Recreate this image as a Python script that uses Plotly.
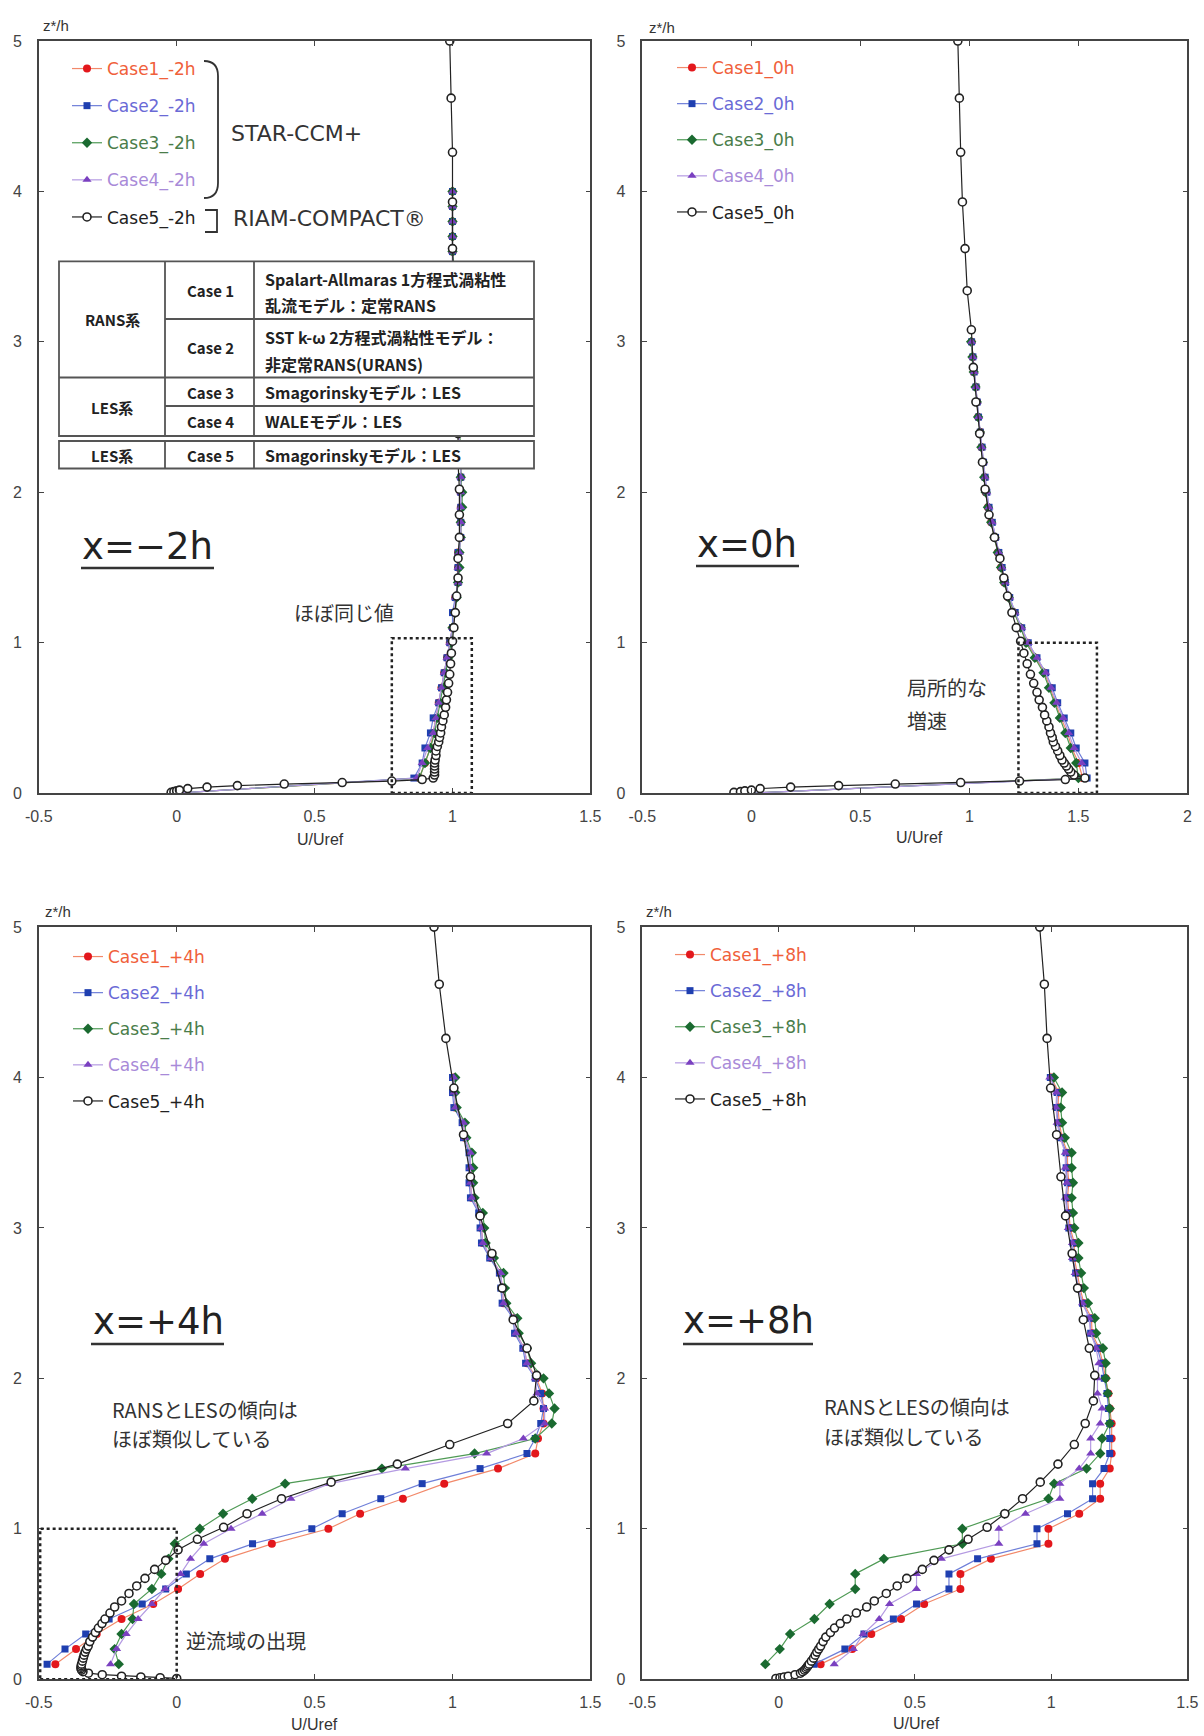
import plotly.graph_objects as go

W, H = 1204, 1736

# ---------------- data ----------------
# STAR-CCM+ sampling heights (z*/h)
Z_CASES_M2H = [0.0, 0.1, 0.2, 0.3, 0.4, 0.5, 0.6, 0.7, 0.8, 0.9, 1.0, 1.1, 1.2, 1.3, 1.4, 1.5, 1.6, 1.7, 1.8, 1.9,
               2.0, 2.1, 2.2, 2.3, 2.4, 2.5, 2.6, 2.7, 2.8, 2.9, 3.0, 3.1, 3.2, 3.3, 3.4, 3.5, 3.6, 3.7, 3.8, 3.9, 4.0]
Z_CASES_0H = [0.0, 0.1, 0.2, 0.3, 0.4, 0.5, 0.6, 0.7, 0.8, 0.9, 1.0, 1.1, 1.2, 1.3, 1.4, 1.5, 1.6, 1.7, 1.8, 1.9,
              2.0, 2.1, 2.2, 2.3, 2.4, 2.5, 2.6, 2.7, 2.8, 2.9, 3.0]
Z_CASES_DOWN = [0.1, 0.2, 0.3, 0.4, 0.5, 0.6, 0.7, 0.8, 0.9, 1.0, 1.1, 1.2, 1.3, 1.4, 1.5, 1.6, 1.7, 1.8, 1.9,
                2.0, 2.1, 2.2, 2.3, 2.4, 2.5, 2.6, 2.7, 2.8, 2.9, 3.0, 3.1, 3.2, 3.3, 3.4, 3.5, 3.6, 3.7, 3.8, 3.9, 4.0]
# RIAM-COMPACT sampling heights (z*/h)
Z_CASE5 = [0.005, 0.01, 0.015, 0.02, 0.03, 0.04, 0.05, 0.06, 0.07, 0.08, 0.09, 0.10, 0.12, 0.14, 0.16, 0.18,
           0.20, 0.22, 0.25, 0.28, 0.31, 0.34, 0.37, 0.40, 0.44, 0.48, 0.52, 0.57, 0.62, 0.67, 0.73, 0.79, 0.86,
           0.93, 1.01, 1.10, 1.20, 1.31, 1.43, 1.56, 1.70, 1.85, 2.02, 2.20, 2.39, 2.60, 2.83, 3.08, 3.34, 3.62,
           3.93, 4.26, 4.62, 5.0]

# x = -2h
U_C1_M2H = [0.0, 0.88, 0.90, 0.92, 0.93, 0.94, 0.95, 0.96, 0.97, 0.98, 0.99, 1.00, 1.01, 1.01, 1.02, 1.02, 1.02,
            1.03, 1.03, 1.03, 1.03, 1.03, 1.03, 1.03, 1.02, 1.02, 1.02, 1.02, 1.02, 1.01, 1.01, 1.01, 1.01, 1.01,
            1.01, 1.00, 1.00, 1.00, 1.00, 1.00, 1.00]
U_C2_M2H = [0.0, 0.86, 0.89, 0.90, 0.92, 0.93, 0.95, 0.96, 0.97, 0.98, 0.99, 1.00, 1.00, 1.01, 1.02, 1.02, 1.02,
            1.03, 1.03, 1.03, 1.03, 1.03, 1.03, 1.03, 1.02, 1.02, 1.02, 1.02, 1.02, 1.01, 1.01, 1.01, 1.01, 1.01,
            1.01, 1.00, 1.00, 1.00, 1.00, 1.00, 1.00]
U_C3_M2H = [0.0, 0.88, 0.90, 0.92, 0.935, 0.945, 0.955, 0.965, 0.975, 0.985, 0.995, 1.00, 1.01, 1.015, 1.02,
            1.025, 1.025, 1.03, 1.03, 1.035, 1.035, 1.03, 1.03, 1.03, 1.025, 1.02, 1.02, 1.02, 1.02, 1.015, 1.01,
            1.01, 1.01, 1.01, 1.01, 1.005, 1.00, 1.00, 1.00, 1.00, 1.00]
U_C4_M2H = [0.0, 0.87, 0.89, 0.91, 0.93, 0.94, 0.95, 0.96, 0.97, 0.98, 0.99, 1.00, 1.01, 1.01, 1.02, 1.02, 1.025,
            1.03, 1.03, 1.03, 1.03, 1.03, 1.03, 1.03, 1.02, 1.02, 1.02, 1.02, 1.02, 1.01, 1.01, 1.01, 1.01, 1.01,
            1.01, 1.00, 1.00, 1.00, 1.00, 1.00, 1.00]
U_C5_M2H = [-0.02, -0.01, 0.0, 0.01, 0.04, 0.11, 0.22, 0.39, 0.60, 0.78, 0.89, 0.93, 0.935, 0.935, 0.935, 0.935,
            0.935, 0.937, 0.94, 0.94, 0.945, 0.95, 0.953, 0.957, 0.96, 0.965, 0.97, 0.975, 0.978, 0.982, 0.986,
            0.99, 0.993, 0.996, 1.0, 1.005, 1.01, 1.015, 1.02, 1.02, 1.025, 1.025, 1.025, 1.02, 1.02, 1.015, 1.01,
            1.01, 1.005, 1.0, 1.0, 1.0, 0.995, 0.99]

# x = 0h
U_C1_0H = [0.0, 1.52, 1.50, 1.47, 1.45, 1.42, 1.395, 1.37, 1.345, 1.305, 1.265, 1.235, 1.205, 1.18, 1.16, 1.145,
           1.13, 1.115, 1.10, 1.085, 1.075, 1.07, 1.063, 1.056, 1.05, 1.04, 1.035, 1.03, 1.02, 1.015, 1.01]
U_C2_0H = [0.0, 1.54, 1.53, 1.49, 1.465, 1.435, 1.405, 1.38, 1.35, 1.31, 1.27, 1.24, 1.21, 1.185, 1.165, 1.15,
           1.135, 1.12, 1.105, 1.09, 1.08, 1.072, 1.065, 1.058, 1.05, 1.042, 1.036, 1.03, 1.022, 1.016, 1.01]
U_C3_0H = [0.0, 1.50, 1.49, 1.465, 1.44, 1.415, 1.39, 1.365, 1.34, 1.30, 1.26, 1.235, 1.205, 1.18, 1.16, 1.145,
           1.13, 1.115, 1.10, 1.085, 1.075, 1.068, 1.062, 1.055, 1.048, 1.04, 1.034, 1.028, 1.02, 1.014, 1.008]
U_C4_0H = [0.0, 1.53, 1.515, 1.48, 1.455, 1.43, 1.40, 1.375, 1.35, 1.31, 1.27, 1.24, 1.21, 1.185, 1.165, 1.15,
           1.135, 1.12, 1.105, 1.09, 1.08, 1.072, 1.065, 1.058, 1.05, 1.042, 1.036, 1.03, 1.022, 1.016, 1.01]
U_C5_0H = [-0.08, -0.05, -0.03, 0.0, 0.04, 0.18, 0.40, 0.66, 0.96, 1.23, 1.44, 1.53, 1.48, 1.465, 1.455, 1.445,
           1.435, 1.425, 1.415, 1.405, 1.395, 1.385, 1.38, 1.372, 1.365, 1.355, 1.345, 1.335, 1.32, 1.31, 1.295,
           1.28, 1.265, 1.25, 1.235, 1.215, 1.195, 1.175, 1.158, 1.14, 1.115, 1.09, 1.072, 1.06, 1.047, 1.03,
           1.018, 1.009, 0.99, 0.98, 0.968, 0.96, 0.954, 0.947]

# x = +4h
U_C1_P4H = [-0.44, -0.365, -0.29, -0.20, -0.085, 0.005, 0.085, 0.175, 0.345, 0.55, 0.665, 0.82, 0.97, 1.165,
            1.30, 1.31, 1.33, 1.33, 1.325, 1.305, 1.27, 1.26, 1.23, 1.225, 1.185, 1.18, 1.175, 1.14, 1.11, 1.105,
            1.10, 1.07, 1.065, 1.065, 1.065, 1.045, 1.04, 1.01, 1.005, 1.005]
U_C2_P4H = [-0.47, -0.405, -0.33, -0.245, -0.125, -0.04, 0.035, 0.12, 0.275, 0.49, 0.60, 0.74, 0.89, 1.10, 1.27,
            1.30, 1.32, 1.33, 1.32, 1.30, 1.265, 1.255, 1.225, 1.22, 1.18, 1.175, 1.17, 1.135, 1.105, 1.10, 1.095,
            1.065, 1.06, 1.06, 1.06, 1.04, 1.035, 1.005, 1.0, 1.0]
U_C3_P4H = [-0.21, -0.225, -0.20, -0.16, -0.155, -0.09, -0.056, -0.03, -0.007, 0.084, 0.168, 0.274, 0.393, 0.744,
            1.08, 1.30, 1.36, 1.37, 1.35, 1.33, 1.285, 1.27, 1.24, 1.235, 1.195, 1.19, 1.185, 1.15, 1.12, 1.115,
            1.11, 1.08, 1.075, 1.075, 1.07, 1.05, 1.045, 1.015, 1.01, 1.01]
U_C4_P4H = [-0.24, -0.218, -0.183, -0.14, -0.09, -0.042, 0.014, 0.05, 0.098, 0.197, 0.31, 0.414, 0.555, 0.829,
            1.124, 1.257, 1.334, 1.334, 1.306, 1.30, 1.27, 1.26, 1.23, 1.225, 1.185, 1.18, 1.175, 1.14, 1.11, 1.105,
            1.10, 1.07, 1.065, 1.065, 1.065, 1.045, 1.04, 1.01, 1.005, 1.005]
U_C5_P4H = [0.0, -0.06, -0.13, -0.20, -0.27, -0.32, -0.34, -0.345, -0.347, -0.347, -0.346, -0.345, -0.342, -0.339,
            -0.336, -0.332, -0.327, -0.321, -0.315, -0.305, -0.295, -0.284, -0.271, -0.26, -0.242, -0.225, -0.20,
            -0.173, -0.145, -0.115, -0.08, -0.04, 0.005, 0.075, 0.17, 0.255, 0.38, 0.56, 0.80, 0.99, 1.20, 1.295,
            1.305, 1.27, 1.22, 1.18, 1.143, 1.10, 1.065, 1.04, 1.005, 0.976, 0.952, 0.933]

# x = +8h
U_C1_P8H = [0.154, 0.27, 0.34, 0.449, 0.534, 0.667, 0.667, 0.779, 0.99, 0.99, 1.103, 1.18, 1.18, 1.215, 1.222,
            1.222, 1.222, 1.215, 1.21, 1.20, 1.19, 1.176, 1.15, 1.148, 1.12, 1.106, 1.095, 1.085, 1.085, 1.07,
            1.065, 1.06, 1.065, 1.06, 1.06, 1.04, 1.03, 1.025, 1.028, 1.0]
U_C2_P8H = [0.13, 0.243, 0.313, 0.421, 0.506, 0.625, 0.625, 0.73, 0.948, 0.948, 1.06, 1.152, 1.152, 1.194, 1.215,
            1.215, 1.215, 1.21, 1.205, 1.195, 1.185, 1.17, 1.145, 1.142, 1.115, 1.10, 1.09, 1.08, 1.08, 1.065,
            1.06, 1.055, 1.06, 1.055, 1.055, 1.035, 1.025, 1.02, 1.022, 0.997]
U_C3_P8H = [-0.049, 0.004, 0.042, 0.131, 0.187, 0.281, 0.281, 0.386, 0.674, 0.674, 0.829, 0.99, 1.011, 1.13,
            1.18, 1.187, 1.215, 1.215, 1.208, 1.20, 1.20, 1.19, 1.165, 1.16, 1.135, 1.12, 1.11, 1.10, 1.10, 1.085,
            1.08, 1.075, 1.08, 1.075, 1.075, 1.05, 1.04, 1.035, 1.04, 1.01]
U_C4_P8H = [0.204, 0.274, 0.31, 0.369, 0.407, 0.506, 0.506, 0.597, 0.808, 0.808, 0.906, 1.032, 1.032, 1.103,
            1.145, 1.145, 1.18, 1.187, 1.17, 1.17, 1.175, 1.165, 1.145, 1.14, 1.115, 1.10, 1.088, 1.078, 1.078,
            1.063, 1.058, 1.052, 1.058, 1.052, 1.052, 1.032, 1.022, 1.018, 1.02, 0.995]
U_C5_P8H = [-0.01, 0.005, 0.02, 0.035, 0.06, 0.08, 0.088, 0.095, 0.10, 0.104, 0.108, 0.112, 0.12, 0.128, 0.134,
            0.14, 0.147, 0.154, 0.163, 0.173, 0.19, 0.205, 0.226, 0.25, 0.285, 0.323, 0.351, 0.395, 0.435, 0.47,
            0.527, 0.57, 0.625, 0.695, 0.765, 0.83, 0.895, 0.96, 1.025, 1.085, 1.125, 1.155, 1.16, 1.14, 1.118,
            1.097, 1.077, 1.053, 1.036, 1.02, 0.998, 0.985, 0.975, 0.958]

POSITIONS = ["-2h", "0h", "+4h", "+8h"]
POS_LABELS = ["x=\u22122h", "x=0h", "x=+4h", "x=+8h"]
CASE_NAMES = ["Case1_", "Case2_", "Case3_", "Case4_", "Case5_"]
X_TICKS = [[-0.5, 0, 0.5, 1, 1.5], [-0.5, 0, 0.5, 1, 1.5, 2], [-0.5, 0, 0.5, 1, 1.5], [-0.5, 0, 0.5, 1, 1.5]]
X_TICKTEXT = [["-0.5", "0", "0.5", "1", "1.5"], ["-0.5", "0", "0.5", "1", "1.5", "2"],
              ["-0.5", "0", "0.5", "1", "1.5"], ["-0.5", "0", "0.5", "1", "1.5"]]
Y_TICKS = [0, 1, 2, 3, 4, 5]

PANEL_DATA = [
    ([Z_CASES_M2H] * 4, [U_C1_M2H, U_C2_M2H, U_C3_M2H, U_C4_M2H], U_C5_M2H),
    ([Z_CASES_0H] * 4, [U_C1_0H, U_C2_0H, U_C3_0H, U_C4_0H], U_C5_0H),
    ([Z_CASES_DOWN] * 4, [U_C1_P4H, U_C2_P4H, U_C3_P4H, U_C4_P4H], U_C5_P4H),
    ([Z_CASES_DOWN] * 4, [U_C1_P8H, U_C2_P8H, U_C3_P8H, U_C4_P8H], U_C5_P8H),
]

# ---------------- styles ----------------
LINE_COL = ["#f2896a", "#6f7fd8", "#4f9a55", "#b49ae2", "#222222"]
MARK_COL = ["#e3171c", "#1f3fb0", "#1a6a30", "#7a40c0", "#ffffff"]
TEXT_COL = ["#f0603a", "#6a6ad6", "#4a7d4a", "#a88ad8", "#222222"]
SYMBOLS = ["circle", "square", "diamond", "triangle-up", "circle"]
MSIZE = [8, 7, 8, 8, 8]


def px(x):
    return x / W


def py(y):
    return 1 - y / H


XL = [px(38.8), px(590.4)]
XR = [px(642.4), px(1187.4)]
YT = [py(793.1), py(41.0)]
YB = [py(1679.2), py(927.1)]
DOMAINS = [(XL, YT), (XR, YT), (XL, YB), (XR, YB)]
X_RANGES = [[-0.5, 1.5], [-0.5, 2.0], [-0.5, 1.5], [-0.5, 1.5]]

fig = go.Figure()

LEGEND_IDS = ["legend", "legend2", "legend3", "legend4"]
for p in range(4):
    zc, uc, u5 = PANEL_DATA[p]
    xa = "x" if p == 0 else f"x{p+1}"
    ya = "y" if p == 0 else f"y{p+1}"
    for k in range(5):
        if k < 4:
            xs, ys = uc[k], zc[k]
            mline = dict(width=0)
        else:
            xs, ys = u5, Z_CASE5
            mline = dict(width=1.6, color="#222222")
        fig.add_trace(go.Scatter(
            x=xs, y=ys, xaxis=xa, yaxis=ya,
            mode="lines+markers",
            name=f'<span style="color:{TEXT_COL[k]}">{CASE_NAMES[k]}{POSITIONS[p]}</span>',
            line=dict(color=LINE_COL[k], width=1.2),
            marker=dict(symbol=SYMBOLS[k], size=MSIZE[k], color=MARK_COL[k], line=mline),
            legend=LEGEND_IDS[p], legendgroup=f"g{p}_{k}",
            showlegend=True,
        ))

axis_common = dict(showline=True, linecolor="#444", linewidth=1.6, mirror="ticks", ticks="inside",
                   ticklen=5, tickwidth=1.2, tickcolor="#444", showgrid=False, zeroline=False,
                   tickfont=dict(family="Liberation Sans", size=16, color="#444"), fixedrange=True,
                   automargin=False)

layout = dict(
    width=W, height=H, autosize=False, template="none",
    margin=dict(l=0, r=0, t=0, b=0, pad=0),
    paper_bgcolor="white", plot_bgcolor="white",
    font=dict(family="Liberation Sans", color="#333"),
)
for p in range(4):
    xd, yd = DOMAINS[p]
    xk = "xaxis" if p == 0 else f"xaxis{p+1}"
    yk = "yaxis" if p == 0 else f"yaxis{p+1}"
    ya = "y" if p == 0 else f"y{p+1}"
    xa = "x" if p == 0 else f"x{p+1}"
    layout[xk] = dict(axis_common, domain=xd, range=X_RANGES[p], anchor=ya, tickvals=X_TICKS[p],
                      ticktext=X_TICKTEXT[p], ticklabelstandoff=8)
    layout[yk] = dict(axis_common, domain=yd, range=[0, 5], anchor=xa, tickvals=Y_TICKS,
                      ticktext=[str(v) for v in Y_TICKS], ticklabelstandoff=12)

# legends (top-left inside each panel)
LEG_POS = [(67, 51), (672, 50), (68, 939), (670, 937)]
LEG_GAP = [12, 11, 11, 11]
for p in range(4):
    lx, ly = LEG_POS[p]
    layout[LEGEND_IDS[p]] = dict(x=px(lx), y=py(ly), xanchor="left", yanchor="top",
                                 bgcolor="rgba(0,0,0,0)", borderwidth=0, traceorder="grouped",
                                 tracegroupgap=LEG_GAP[p], font=dict(family="DejaVu Sans", size=17),
                                 itemclick=False, itemdoubleclick=False)

fig.update_layout(**layout)

shapes = []
ann = []


def line_px(x0, y0, x1, y1, color="#444", width=1.5, dash=None):
    d = dict(type="line", xref="paper", yref="paper", x0=px(x0), y0=py(y0), x1=px(x1), y1=py(y1),
             line=dict(color=color, width=width), layer="above")
    if dash:
        d["line"]["dash"] = dash
    shapes.append(d)


def text_px(x, y, s, size=16, color="#333", family="Liberation Sans", xanchor="center"):
    ann.append(dict(x=px(x), y=py(y), xref="paper", yref="paper", text=s, showarrow=False,
                    xanchor=xanchor, yanchor="middle", font=dict(size=size, color=color, family=family)))


# dotted highlight boxes (data coordinates)
BOXES = [("x", "y", 0.78, 1.07, 0.0, 1.03), ("x2", "y2", 1.225, 1.585, 0.0, 1.0), ("x3", "y3", -0.495, 0.0, 0.0, 1.0)]
for xr, yr, x0, x1, y0, y1 in BOXES:
    shapes.append(dict(type="rect", xref=xr, yref=yr, x0=x0, x1=x1, y0=y0, y1=y1,
                       line=dict(color="#222", width=2.5, dash="dot"), fillcolor="rgba(0,0,0,0)", layer="above"))

# method table in the -2h panel
TL, TC1, TC2, TR = 59, 165, 254, 534
for (top, bot) in [(261.3, 436), (441, 468.5)]:
    shapes.append(dict(type="rect", xref="paper", yref="paper", x0=px(TL), x1=px(TR), y0=py(bot), y1=py(top),
                       fillcolor="white", line=dict(color="#555", width=1.8), layer="above"))
    for xc in (TC1, TC2):
        line_px(xc, top, xc, bot, color="#555", width=1.8)
line_px(TC1, 319, TR, 319, color="#555", width=1.8)
line_px(TL, 377.5, TR, 377.5, color="#555", width=1.8)
line_px(TC1, 406, TR, 406, color="#555", width=1.8)

JP = "Noto Sans CJK JP"
TS = 15
TS2 = 16
text_px(112, 320, "<b>RANS系</b>", TS, "#222", JP)
text_px(210, 290, "<b>Case 1</b>", TS, "#222", JP)
text_px(210, 348, "<b>Case 2</b>", TS, "#222", JP)
text_px(263, 279, "<b>Spalart-Allmaras 1方程式渦粘性</b>", TS2, "#222", JP, "left")
text_px(263, 305, "<b>乱流モデル：定常RANS</b>", TS2, "#222", JP, "left")
text_px(263, 337, "<b>SST k-ω 2方程式渦粘性モデル：</b>", TS2, "#222", JP, "left")
text_px(263, 364, "<b>非定常RANS(URANS)</b>", TS2, "#222", JP, "left")
text_px(112, 407, "<b>LES系</b>", TS, "#222", JP)
text_px(210, 392, "<b>Case 3</b>", TS, "#222", JP)
text_px(210, 421, "<b>Case 4</b>", TS, "#222", JP)
text_px(263, 392, "<b>Smagorinskyモデル：LES</b>", TS2, "#222", JP, "left")
text_px(263, 421, "<b>WALEモデル：LES</b>", TS2, "#222", JP, "left")
text_px(112, 455, "<b>LES系</b>", TS, "#222", JP)
text_px(210, 455, "<b>Case 5</b>", TS, "#222", JP)
text_px(263, 455, "<b>Smagorinskyモデル：LES</b>", TS2, "#222", JP, "left")

# brackets and solver labels
shapes.append(dict(type="path", xref="paper", yref="paper", layer="above",
                   path=(f"M {px(204)},{py(61)} Q {px(218)},{py(61)} {px(218)},{py(76)} "
                         f"L {px(218)},{py(183)} Q {px(218)},{py(198)} {px(204)},{py(198)}"),
                   line=dict(color="#333", width=1.8)))
shapes.append(dict(type="path", xref="paper", yref="paper", layer="above",
                   path=(f"M {px(205)},{py(210)} L {px(217)},{py(210)} L {px(217)},{py(232)} "
                         f"L {px(205)},{py(232)}"),
                   line=dict(color="#333", width=1.8)))
text_px(229, 133, "STAR-CCM+", 22, "#333", "DejaVu Sans", "left")
text_px(231, 219, "RIAM-COMPACT®", 22, "#333", "DejaVu Sans", "left")

# big position labels with underline
BIG = [(147, 547, 81, 214, 568), (747, 545, 696, 799, 566), (158, 1321, 91, 224, 1344), (748, 1320, 683, 813, 1344)]
for p, (cx, cy, u0, u1, uy) in enumerate(BIG):
    text_px(cx, cy, POS_LABELS[p], 37, "#222", "DejaVu Sans")
    line_px(u0, uy, u1, uy, color="#333", width=2.5)

# comments
text_px(344, 613, "ほぼ同じ値", 20, "#333", JP)
text_px(905, 687, "局所的な", 20, "#333", JP, "left")
text_px(905, 720, "増速", 20, "#333", JP, "left")
text_px(110, 1409, "RANSとLESの傾向は", 20, "#333", JP, "left")
text_px(110, 1438, "ほぼ類似している", 20, "#333", JP, "left")
text_px(184, 1640, "逆流域の出現", 20, "#333", JP, "left")
text_px(822, 1406, "RANSとLESの傾向は", 20, "#333", JP, "left")
text_px(822, 1436, "ほぼ類似している", 20, "#333", JP, "left")

# axis titles
for (zx, zy) in [(56, 25), (662, 27), (58, 912), (659, 912)]:
    text_px(zx, zy, "z*/h", 15, "#333")
for (ux, uy) in [(320, 839), (919, 837), (314, 1724), (916, 1723)]:
    text_px(ux, uy, "U/Uref", 16, "#333")

fig.update_layout(shapes=shapes, annotations=ann)
fig.write_html("out.html")
